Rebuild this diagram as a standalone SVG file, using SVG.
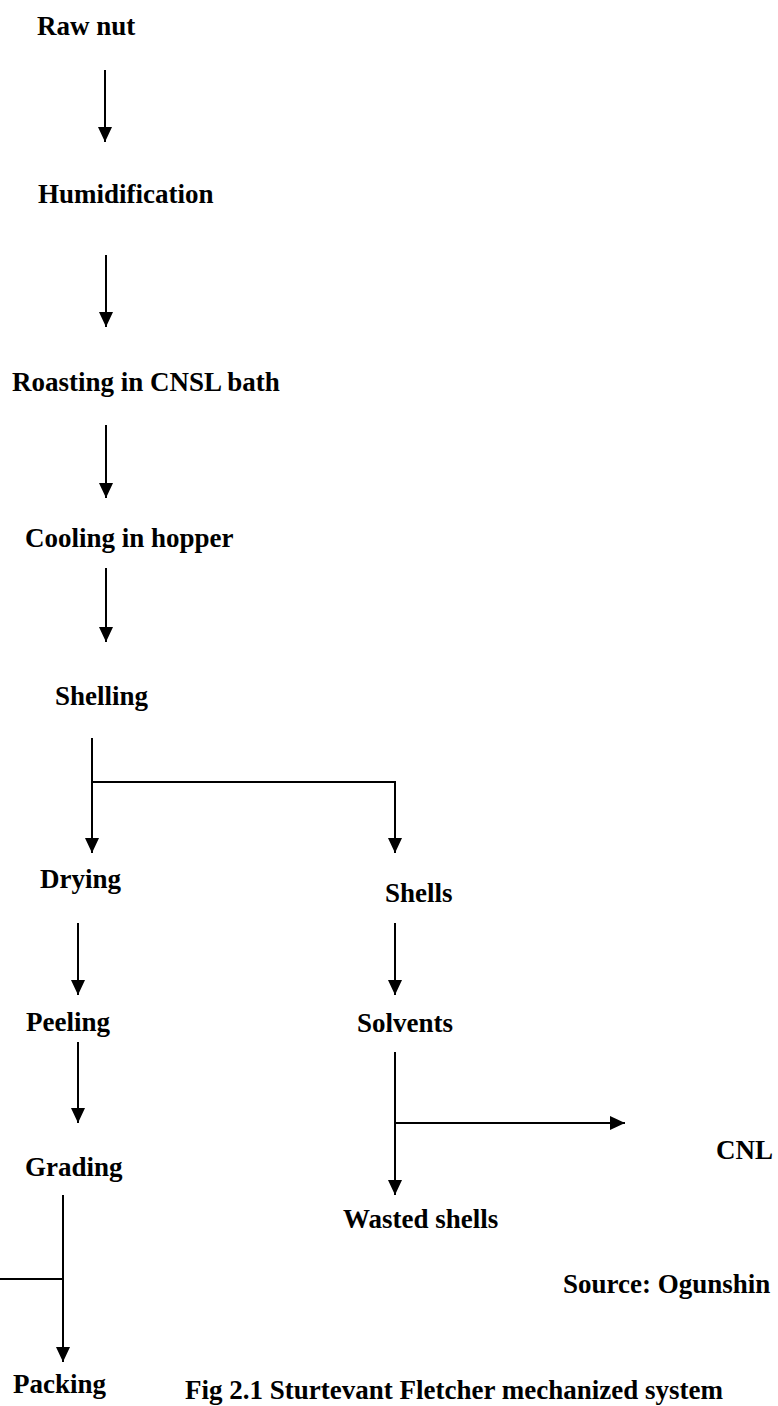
<svg xmlns="http://www.w3.org/2000/svg" width="778" height="1406" viewBox="0 0 778 1406">
<style>
text{font-family:"Liberation Serif","Times New Roman",serif;font-size:27px;font-weight:bold;fill:#000}
.ln{stroke:#000;stroke-width:2;fill:none}
</style>
<defs>
<marker id="ah" markerUnits="userSpaceOnUse" viewBox="0 -8 16 16" refX="15" refY="0" markerWidth="16" markerHeight="16" orient="auto">
<path d="M0,-7 L15,0 L0,7 z" fill="#000"/>
</marker>
</defs>
<rect width="778" height="1406" fill="#fff"/>
<g id="connectors">
<line class="ln" x1="105" y1="70" x2="105" y2="142" marker-end="url(#ah)"/>
<line class="ln" x1="106" y1="255" x2="106" y2="327" marker-end="url(#ah)"/>
<line class="ln" x1="106" y1="425" x2="106" y2="498" marker-end="url(#ah)"/>
<line class="ln" x1="106" y1="568" x2="106" y2="642" marker-end="url(#ah)"/>
<line class="ln" x1="92" y1="738" x2="92" y2="853" marker-end="url(#ah)"/>
<polyline class="ln" points="92,782 395,782 395,853" marker-end="url(#ah)"/>
<line class="ln" x1="78" y1="923" x2="78" y2="995" marker-end="url(#ah)"/>
<line class="ln" x1="78" y1="1042" x2="78" y2="1123" marker-end="url(#ah)"/>
<line class="ln" x1="395" y1="923" x2="395" y2="995" marker-end="url(#ah)"/>
<line class="ln" x1="395" y1="1052" x2="395" y2="1195" marker-end="url(#ah)"/>
<line class="ln" x1="395" y1="1123" x2="625" y2="1123" marker-end="url(#ah)"/>
<line class="ln" x1="63" y1="1195" x2="63" y2="1362" marker-end="url(#ah)"/>
<line class="ln" x1="0" y1="1279" x2="63" y2="1279"/>
</g>
<g id="raw-nut"><text x="37" y="35">Raw nut</text></g>
<g id="humidification"><text x="38" y="203">Humidification</text></g>
<g id="roasting"><text x="12" y="391">Roasting in CNSL bath</text></g>
<g id="cooling"><text x="25" y="547">Cooling in hopper</text></g>
<g id="shelling"><text x="55" y="705">Shelling</text></g>
<g id="drying"><text x="40" y="888">Drying</text></g>
<g id="shells"><text x="385" y="902">Shells</text></g>
<g id="peeling"><text x="26" y="1031">Peeling</text></g>
<g id="solvents"><text x="357" y="1032">Solvents</text></g>
<g id="grading"><text x="25" y="1176">Grading</text></g>
<g id="cnl"><text x="716" y="1159">CNL</text></g>
<g id="wasted-shells"><text x="343" y="1228">Wasted shells</text></g>
<g id="source"><text x="563" y="1293">Source: Ogunshin</text></g>
<g id="packing"><text x="13" y="1393">Packing</text></g>
<g id="caption"><text x="185" y="1399">Fig 2.1 Sturtevant Fletcher mechanized system</text></g>
</svg>
